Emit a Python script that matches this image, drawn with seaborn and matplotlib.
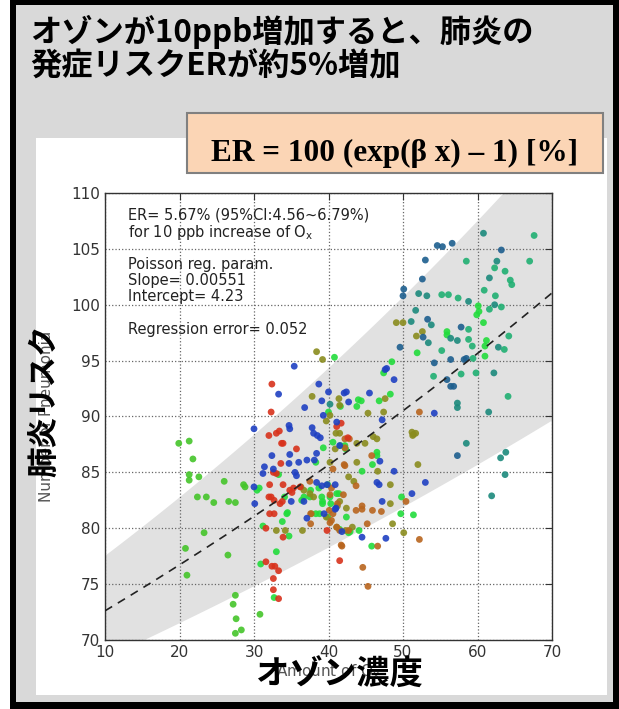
import numpy as np
import pandas as pd
import matplotlib
matplotlib.use('Agg')
import matplotlib.pyplot as plt
from matplotlib.patches import Rectangle
import seaborn as sns

# --- data (ozone amount, number of pneumonia cases) ---
lime_x = [19.9, 21.3, 21.8, 21.3, 21.3, 22.6, 26.0, 22.4, 23.6, 24.6, 26.6, 27.5, 23.3, 20.8,
          26.5, 21.0, 27.5, 27.2, 27.6, 27.5, 28.3, 30.8, 28.6, 28.8]
lime_y = [87.6, 87.8, 86.2, 84.8, 84.3, 84.6, 84.2, 82.8, 82.8, 82.3, 82.4, 82.3, 79.6, 78.2,
          77.6, 75.8, 74.0, 73.2, 71.9, 70.6, 70.9, 72.3, 83.9, 83.7]

green_x = [40.8, 40.0, 41.6, 33.3, 37.6, 30.7, 30.4, 34.1, 36.4, 36.7, 39.1, 40.2, 39.2, 40.3,
           34.4, 34.5, 38.3, 33.8, 31.2, 34.7, 42.7, 33.0, 30.9, 32.7, 41.6, 39.3, 38.3, 38.7,
           46.5, 46.5, 45.9, 44.5, 49.8, 42.4, 49.7, 51.4, 42.9, 44.1, 45.8, 44.4, 44.0, 43.8,
           46.8, 48.3, 48.5, 47.4, 60.1, 59.9, 60.2, 55.9, 55.9, 60.8, 61.2, 61.0, 61.0, 51.9,
           37.5, 39.9, 38.8, 39.9, 41.5, 39.2, 40.6, 42.2, 42.3, 41.1, 41.4]
green_y = [95.3, 90.4, 87.4, 84.8, 83.4, 83.6, 83.4, 82.8, 82.5, 82.8, 82.8, 82.8, 82.2, 82.2,
           81.3, 81.4, 81.3, 80.6, 80.2, 79.3, 79.6, 77.9, 76.8, 73.8, 90.9, 87.2, 85.9, 83.6,
           86.8, 86.5, 85.7, 85.1, 82.8, 81.0, 81.3, 81.2, 79.7, 79.8, 78.4, 91.4, 91.5, 90.9,
           91.4, 92.0, 94.9, 93.9, 99.9, 99.1, 99.4, 97.6, 97.3, 98.4, 96.8, 96.3, 95.4, 95.7,
           82.8, 83.9, 81.3, 81.0, 79.9, 82.4, 87.7, 87.4, 87.1, 83.1, 83.1]

olive_x = [38.4, 39.2, 37.8, 41.5, 39.7, 40.2, 41.0, 40.9, 40.2, 36.3, 36.7, 38.0, 39.7, 33.0,
           34.2, 36.5, 41.4, 41.5, 43.8, 46.6, 52.0, 42.7, 43.4, 48.3, 48.3, 42.4, 48.6, 43.2,
           50.1, 51.2, 51.4, 51.7, 51.3, 49.1, 50.0, 52.6, 51.8, 45.3, 47.6, 47.4, 46.0, 46.5,
           44.9, 37.5, 37.7, 43.8, 41.5, 41.2, 41.1, 42.3]
olive_y = [95.8, 95.1, 91.8, 91.0, 89.6, 90.1, 88.5, 87.1, 85.9, 83.7, 83.4, 82.8, 81.0, 79.8,
           79.8, 79.8, 91.6, 88.5, 85.9, 85.1, 85.7, 84.6, 84.2, 83.9, 82.2, 81.8, 80.4, 80.1,
           79.6, 88.6, 88.4, 88.5, 88.3, 98.4, 98.4, 97.6, 97.2, 90.3, 91.6, 90.4, 88.2, 88.0,
           87.6, 83.1, 81.3, 87.6, 82.4, 82.0, 80.1, 79.8]

orange_x = [42.2, 42.2, 37.5, 40.1, 37.6, 40.2, 37.6, 41.5, 41.7, 42.2, 45.8, 42.1, 43.7, 50.4,
            44.5, 44.5, 43.7, 45.9, 47.1, 45.2, 52.2, 46.6, 41.8, 44.6, 45.3, 52.2, 41.2, 40.4,
            41.1, 42.7, 40.6, 40.4, 40.2, 42.0, 40.6, 42.8]
orange_y = [88.0, 85.6, 84.2, 81.6, 81.3, 80.5, 80.4, 79.8, 78.5, 87.2, 86.5, 85.7, 83.8, 82.4,
            82.0, 81.7, 81.6, 81.6, 81.5, 80.4, 79.0, 78.4, 78.4, 76.5, 74.8, 90.4, 82.2, 80.7,
            80.1, 79.8, 85.3, 83.6, 83.0, 83.0, 81.3, 88.0]

red_x = [32.4, 32.3, 41.7, 32.0, 33.0, 33.7, 33.9, 35.7, 42.6, 33.6, 32.6, 32.1, 32.0, 32.3,
         32.7, 33.9, 34.8, 35.1, 35.3, 33.5, 32.7, 32.1, 31.6, 33.9, 39.8, 41.5, 31.6, 32.4,
         32.8, 33.3, 32.6, 32.6, 33.3, 41.1, 33.4, 36.2, 33.0, 33.8]
red_y = [92.9, 90.4, 89.4, 88.3, 88.5, 87.6, 87.6, 87.1, 88.1, 85.8, 85.0, 83.9, 82.8, 82.8,
         82.5, 83.9, 83.4, 83.2, 83.6, 82.2, 81.3, 81.3, 80.0, 79.2, 79.8, 77.1, 77.0, 76.6,
         76.6, 76.2, 75.5, 74.5, 73.7, 89.1, 88.7, 83.7, 84.9, 82.4]

blue_x = [35.4, 33.3, 38.7, 40.0, 42.1, 42.4, 42.7, 39.1, 36.8, 39.3, 41.1, 30.0, 34.7, 34.8,
          37.8, 38.0, 38.5, 38.9, 32.4, 31.4, 31.2, 32.6, 34.8, 34.7, 37.1, 38.1, 38.4, 35.5,
          35.7, 38.4, 39.1, 39.8, 30.0, 30.1, 35.0, 37.1, 39.4, 36.0, 36.7, 41.0, 46.9, 48.8,
          40.9, 46.5, 46.8, 53.0, 51.2, 47.2, 44.5, 41.8, 47.7, 54.2, 45.5, 47.2, 47.6, 47.8,
          48.8, 41.5, 40.9]
blue_y = [94.5, 92.0, 92.9, 92.2, 92.1, 92.2, 91.3, 91.4, 90.8, 90.1, 89.5, 88.9, 89.2, 88.9,
          89.0, 88.5, 88.3, 88.1, 86.5, 85.5, 84.9, 85.3, 86.6, 85.8, 86.1, 86.1, 86.7, 85.0,
          84.7, 84.1, 83.8, 83.9, 83.7, 82.2, 82.4, 80.9, 81.3, 85.9, 82.4, 81.8, 86.0, 85.1,
          83.9, 84.1, 83.9, 84.1, 83.1, 82.4, 79.2, 79.7, 79.1, 90.3, 92.1, 89.7, 94.2, 94.3,
          93.3, 87.4, 81.7]

steel_x = [57.3, 63.2, 54.6, 55.3, 56.6, 53.0, 52.6, 50.1, 50.0, 53.3, 52.7, 57.8, 58.5, 58.2,
           54.2, 56.4, 55.9, 56.4, 56.8, 49.6]
steel_y = [86.5, 104.9, 105.3, 105.2, 105.5, 104.0, 102.3, 101.4, 100.8, 98.7, 97.1, 98.0, 95.2,
           95.1, 94.8, 95.1, 93.3, 92.7, 92.7, 96.2]

teal_x = [57.3, 57.3, 61.5, 58.5, 63.8, 63.1, 63.7, 61.9, 60.8, 62.6, 61.6, 52.1, 53.2, 58.8,
          62.3, 51.7, 51.1, 53.8, 53.4, 56.4, 57.3, 62.8, 62.2, 40.2]
teal_y = [91.2, 90.8, 90.4, 87.6, 86.8, 86.3, 84.8, 82.9, 106.4, 103.9, 102.4, 101.0, 100.8,
          100.3, 100.0, 99.5, 98.5, 98.2, 96.6, 97.0, 96.8, 96.2, 93.9, 91.1]

sea_x = [67.6, 67.0, 58.5, 62.3, 63.7, 64.4, 64.6, 55.2, 56.1, 57.4, 60.9, 62.4, 61.6, 63.2,
         58.8, 58.8, 59.3, 63.6, 64.2, 55.2, 59.4, 57.8, 59.8, 54.1, 64.1]
sea_y = [106.2, 103.9, 103.9, 103.3, 103.0, 102.2, 101.8, 100.9, 100.9, 100.6, 101.3, 100.8,
         99.6, 99.8, 97.8, 96.9, 96.3, 96.0, 97.2, 95.9, 95.2, 93.8, 93.9, 93.6, 91.8]

group_names = ['lime', 'green', 'olive', 'orange', 'red', 'blue', 'steel', 'teal', 'sea']
group_colors = ['#45c52a', '#22dc3c', '#8a8c1e', '#b8651e', '#d8321c', '#1f40c2',
                '#1d5e8e', '#1c8a7c', '#20b072']

# Poisson regression parameters shown on the chart
slope = 0.00551
intercept = 4.23
# edges of the grey band, read at the left / right
band_x = [10, 63.4]
band_hi = [77.6, 110.0]
band_lo_x = [15.1, 70]
band_lo = [70.0, 89.7]

xs = {'lime': lime_x, 'green': green_x, 'olive': olive_x, 'orange': orange_x, 'red': red_x,
      'blue': blue_x, 'steel': steel_x, 'teal': teal_x, 'sea': sea_x}
ys = {'lime': lime_y, 'green': green_y, 'olive': olive_y, 'orange': orange_y, 'red': red_y,
      'blue': blue_y, 'steel': steel_y, 'teal': teal_y, 'sea': sea_y}
df = pd.concat([pd.DataFrame({'ox': xs[g], 'cases': ys[g], 'grp': g}) for g in group_names],
               ignore_index=True)

sns.set_style('white')
plt.rcParams['font.family'] = ['Noto Sans CJK JP', 'DejaVu Sans']

W, H = 619, 709
fig = plt.figure(figsize=(W / 100, H / 100), dpi=100)
fig.patch.set_facecolor('white')


def fx(x):
    return x / W


def fy(y):
    return 1 - y / H


# slide background
bg = fig.add_axes([0, 0, 1, 1], zorder=-1)
bg.set_xlim(0, W)
bg.set_ylim(H, 0)
bg.axis('off')
bg.add_patch(Rectangle((10, 0), W - 10, H, fc='black', ec='none'))
bg.add_patch(Rectangle((16, 5), 597, 697, fc='#d9d9d9', ec='none'))
bg.add_patch(Rectangle((36, 138), 571, 557, fc='white', ec='none'))
bg.add_patch(Rectangle((187, 113), 416, 60, fc='#fbd5b5', ec='#808080', lw=1.5))

# main scatter axes
ax = fig.add_axes([fx(105), fy(640), 447 / W, 447 / H])
ax.set_facecolor('white')

xx = np.linspace(10, 70, 200)
k_hi = np.log(band_hi[1] / band_hi[0]) / (band_x[1] - band_x[0])
k_lo = np.log(band_lo[1] / band_lo[0]) / (band_lo_x[1] - band_lo_x[0])
upper = band_hi[0] * np.exp(k_hi * (xx - band_x[0]))
lower = band_lo[0] * np.exp(k_lo * (xx - band_lo_x[0]))
ax.fill_between(xx, lower, upper, color='#e1e1e1', lw=0, zorder=0.2)

sns.scatterplot(data=df, x='ox', y='cases', hue='grp', hue_order=group_names,
                palette=dict(zip(group_names, group_colors)), s=24, linewidth=0,
                alpha=0.9, legend=False, ax=ax, zorder=2)

ax.plot(xx, np.exp(intercept + slope * xx), ls=(0, (5, 4)), color='#222222', lw=1.2, zorder=3)

ax.set_xlim(10, 70)
ax.set_ylim(70, 110)
ax.set_xticks(range(10, 71, 10))
ax.set_yticks(range(70, 111, 5))
ax.grid(True, ls=':', color='#666666', lw=0.9)
ax.set_axisbelow(True)
ax.tick_params(direction='in', length=5, width=0.8, top=True, right=True,
               labelsize=11, labelcolor='#333333', color='#333333')
for lab in ax.get_xticklabels() + ax.get_yticklabels():
    lab.set_family('DejaVu Sans')
for sp in ax.spines.values():
    sp.set_color('#333333')
    sp.set_linewidth(1.0)
ax.set_xlabel('')
ax.set_ylabel('')

txt_kw = dict(transform=ax.transAxes, ha='left', va='top', fontsize=10.5,
              family='DejaVu Sans', color='#222222', linespacing=1.05)
ax.text(0.052, 0.968, 'ER= 5.67% (95%CI:4.56~6.79%)\nfor 10 ppb increase of O$_\\mathregular{x}$',
        **txt_kw)
ax.text(0.052, 0.856, 'Poisson reg. param.\nSlope= 0.00551\nIntercept= 4.23', **txt_kw)
ax.text(0.052, 0.712, 'Regression error= 0.052', **txt_kw)

# original english axis labels (partly hidden by the japanese ones)
fig.text(fx(47), fy(416), 'Number of Pneumonia', rotation=90, ha='center', va='center',
         fontsize=11, color='#555555', family='DejaVu Sans')
fig.text(fx(328), fy(672), 'Amount of O$_\\mathregular{x}$', ha='center', va='center',
         fontsize=11, color='#555555', family='DejaVu Sans')

# japanese overlays
fig.text(fx(45), fy(401), '肺炎リスク', rotation=90, ha='center', va='center',
         fontsize=22, weight='bold', color='black')
fig.text(fx(339), fy(675), 'オゾン濃度', ha='center', va='center',
         fontsize=24, weight='bold', color='black')

fig.text(fx(30), fy(32), 'オゾンが10ppb増加すると、肺炎の', ha='left', va='center',
         fontsize=22.5, weight='bold', color='black')
fig.text(fx(30), fy(66), '発症リスクERが約5%増加', ha='left', va='center',
         fontsize=22.5, weight='bold', color='black')

fig.text(fx(395), fy(153), 'ER = 100 (exp(β x) – 1) [%]', ha='center', va='center',
         fontsize=22.5, weight='bold', family='Liberation Serif', color='black')

fig.savefig('out.png', dpi=100)
